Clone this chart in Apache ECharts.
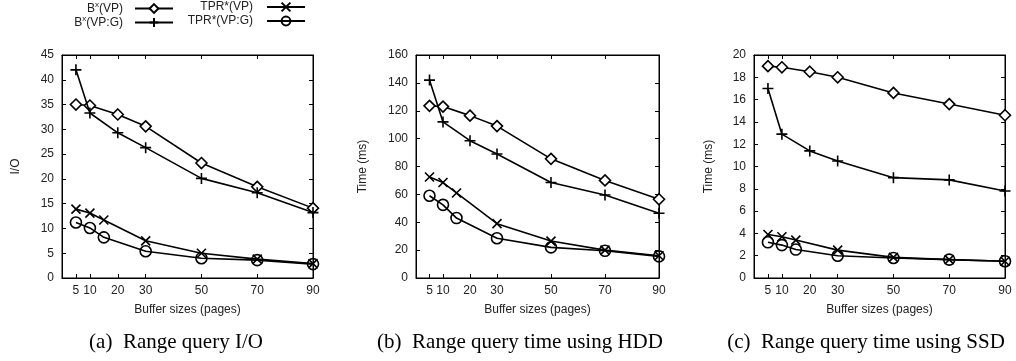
<!DOCTYPE html>
<html>
<head>
<meta charset="utf-8">
<script src="https://cdn.jsdelivr.net/npm/echarts@6/dist/echarts.min.js"></script>
<style>
html,body{margin:0;padding:0;background:#fff;}
#c{width:1016px;height:361px;}
</style>
</head>
<body>
<div id="c"></div>
<script>
// ---- data ----
const seriesNames = ['B^x(VP)', 'B^x(VP:G)', 'TPR*(VP)', 'TPR*(VP:G)'];
const xTickLabels = [5, 10, 20, 30, 50, 70, 90];
const bxX = [5, 10, 20, 30, 50, 70, 90];
const tprX = [5, 10, 15, 30, 50, 70, 90];

// (a) Range query I/O
const ioBxVP   = [35.0, 34.8, 33.0, 30.6, 23.2, 18.4, 14.1];
const ioBxVPG  = [42.0, 33.3, 29.3, 26.3, 20.1, 17.2, 13.2];
const ioTprVP  = [13.9, 13.1, 11.7, 7.5, 5.0, 3.8, 2.9];
const ioTprVPG = [11.2, 10.1, 8.2, 5.4, 4.0, 3.6, 2.8];

// (b) Range query time using HDD
const hddBxVP   = [123.5, 123.0, 116.5, 109.0, 85.5, 70.0, 56.5];
const hddBxVPG  = [142.0, 112.0, 98.5, 89.0, 68.5, 59.5, 46.5];
const hddTprVP  = [72.5, 68.5, 61.0, 39.0, 26.5, 20.0, 16.0];
const hddTprVPG = [59.0, 52.5, 43.0, 28.5, 22.0, 19.5, 15.5];

// (c) Range query time using SSD
const ssdBxVP   = [19.0, 18.9, 18.5, 18.0, 16.6, 15.6, 14.6];
const ssdBxVPG  = [17.0, 12.9, 11.4, 10.5, 9.0, 8.8, 7.8];
const ssdTprVP  = [3.9, 3.7, 3.4, 2.5, 1.85, 1.65, 1.5];
const ssdTprVPG = [3.2, 2.95, 2.55, 2.0, 1.8, 1.65, 1.5];

const yAxisNames = ['I/O', 'Time (ms)', 'Time (ms)'];
const yMax = [45, 160, 20];
const yInterval = [5, 20, 2];
const xAxisName = 'Buffer sizes (pages)';
const captions = ['(a)  Range query I/O', '(b)  Range query time using HDD', '(c)  Range query time using SSD'];

// ---- layout ----
const grids = [
  {left: 62, top: 55, width: 251, height: 223},
  {left: 416, top: 55, width: 243, height: 223},
  {left: 754, top: 55, width: 251, height: 223}
];
const yNameGaps = [40, 47, 39];
const captionX = [176, 520, 866];

const FONT = 'Liberation Sans, Arial, Helvetica, sans-serif';
const PLUS = 'path://M5,0L5,10M0,5L10,5';
const CROSS = 'path://M0,0L10,10M0,10L10,0';
const symbols = [
  {symbol: 'diamond', fill: '#fff', size: 11},
  {symbol: PLUS, fill: 'rgba(0,0,0,0)', size: 11},
  {symbol: CROSS, fill: 'rgba(0,0,0,0)', size: 9},
  {symbol: 'circle', fill: 'rgba(0,0,0,0)', size: 11}
];
const panelData = [
  [ioBxVP, ioBxVPG, ioTprVP, ioTprVPG],
  [hddBxVP, hddBxVPG, hddTprVP, hddTprVPG],
  [ssdBxVP, ssdBxVPG, ssdTprVP, ssdTprVPG]
];

const gridOpts = grids.map(g => Object.assign({show: true, borderColor: '#000', borderWidth: 1, backgroundColor: 'transparent'}, g));

const xAxes = [], yAxes = [], series = [];
grids.forEach((g, i) => {
  const tickCommon = {show: true, inside: true, length: 4, lineStyle: {color: '#000', width: 1}};
  const lineCommon = {show: true, onZero: false, lineStyle: {color: '#000', width: 1}};
  xAxes.push({
    type: 'value', gridIndex: i, min: 0, max: 90, position: 'bottom',
    name: xAxisName, nameLocation: 'middle', nameGap: 26,
    nameTextStyle: {fontFamily: FONT, fontSize: 12, color: '#222'},
    axisLine: lineCommon,
    axisTick: Object.assign({customValues: xTickLabels}, tickCommon),
    axisLabel: {customValues: xTickLabels, fontFamily: FONT, fontSize: 12, color: '#222', margin: 7},
    splitLine: {show: false}
  });
  xAxes.push({
    type: 'value', gridIndex: i, min: 0, max: 90, position: 'top',
    axisLine: lineCommon,
    axisTick: Object.assign({customValues: xTickLabels}, tickCommon),
    axisLabel: {show: false},
    splitLine: {show: false}
  });
  yAxes.push({
    type: 'value', gridIndex: i, min: 0, max: yMax[i], interval: yInterval[i], position: 'left',
    name: yAxisNames[i], nameLocation: 'middle', nameGap: yNameGaps[i],
    nameTextStyle: {fontFamily: FONT, fontSize: 12, color: '#222'},
    axisLine: lineCommon,
    axisTick: tickCommon,
    axisLabel: {fontFamily: FONT, fontSize: 12, color: '#222', margin: 8},
    splitLine: {show: false}
  });
  yAxes.push({
    type: 'value', gridIndex: i, min: 0, max: yMax[i], interval: yInterval[i], position: 'right',
    axisLine: lineCommon,
    axisTick: tickCommon,
    axisLabel: {show: false},
    splitLine: {show: false}
  });
  panelData[i].forEach((vals, k) => {
    const xs = k < 2 ? bxX : tprX;
    const s = symbols[k];
    series.push({
      name: seriesNames[k], type: 'line',
      xAxisIndex: 2 * i, yAxisIndex: 2 * i,
      data: vals.map((v, j) => [xs[j], v]),
      symbol: s.symbol, symbolSize: s.size, showAllSymbol: true,
      lineStyle: {color: '#000', width: 1.6},
      itemStyle: {color: s.fill, borderColor: '#000', borderWidth: 1.6},
      emphasis: {disabled: true},
      animation: false, z: 2 + k
    });
  });
});

function legendFmt(name) {
  if (name.indexOf('B^x') === 0) {
    return '{n|B}{s|x}{n|' + name.slice(3) + '}';
  }
  return '{n|' + name + '}';
}
const legendRich = {
  n: {fontFamily: FONT, fontSize: 12, color: '#222'},
  s: {fontFamily: FONT, fontSize: 8, color: '#222', padding: [0, 0, 7, 0]}
};
const legendPos = [
  {right: 842, top: 1, pad: 7}, {right: 842, top: 15, pad: 7},
  {right: 710, top: 1, pad: 9}, {right: 710, top: 15, pad: 9}
];
const legends = seriesNames.map((nm, k) => ({
  data: [nm], align: 'right', orient: 'horizontal',
  right: legendPos[k].right, top: legendPos[k].top,
  itemWidth: 38, itemHeight: 11, itemGap: 0, padding: 0,
  formatter: legendFmt, selectedMode: false,
  textStyle: {rich: legendRich, padding: [0, legendPos[k].pad, 0, 0]}
}));

const graphics = captions.map((t, i) => ({
  type: 'text', x: captionX[i], y: 342,
  style: {text: t, font: '21px "Liberation Serif", "Times New Roman", serif', fill: '#000', textAlign: 'center', textVerticalAlign: 'middle'}
}));

const chart = echarts.init(document.getElementById('c'), null, {renderer: 'canvas'});
chart.setOption({
  animation: false,
  backgroundColor: '#fff',
  grid: gridOpts,
  xAxis: xAxes,
  yAxis: yAxes,
  legend: legends,
  series: series,
  graphic: graphics
});
</script>
</body>
</html>
